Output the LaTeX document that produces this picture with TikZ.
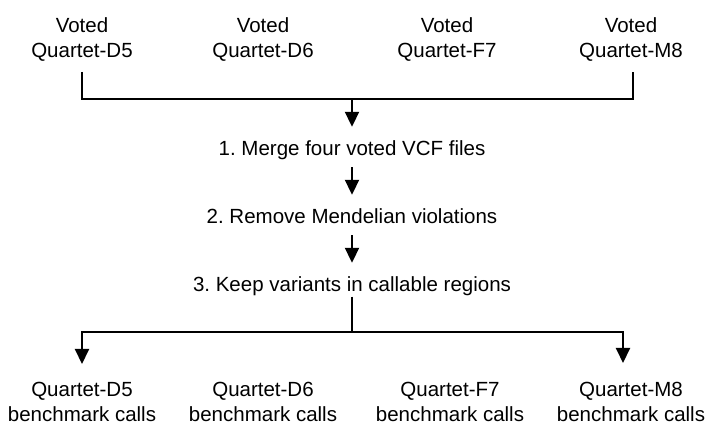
\documentclass[tikz,border=0pt]{standalone}
\usepackage{fontspec}
\setmainfont{Liberation Sans}
\usetikzlibrary{arrows.meta}
\frenchspacing
\begin{document}
\begin{tikzpicture}[x=1pt,y=-1pt,
  lbl/.style={inner sep=0pt, align=center, font=\fontsize{20.5}{25}\selectfont},
  stp/.style={inner sep=0pt, font=\fontsize{20.5}{25}\selectfont, text height=15pt, text depth=4.5pt},
  wire/.style={line width=2pt},
  arr/.style={line width=2pt, -{Triangle[width=14pt,length=15pt]}}]
\useasboundingbox[fill=white] (0,0) rectangle (712,443);
% inputs
\node[lbl, anchor=north] (vd5) at (82,17) {Voted\\Quartet-D5};
\node[lbl, anchor=north] (vd6) at (263,17) {Voted\\Quartet-D6};
\node[lbl, anchor=north] (vf7) at (447,17) {Voted\\Quartet-F7};
\node[lbl, anchor=north] (vm8) at (631,17) {Voted\\Quartet-M8};
% steps
\node[stp, anchor=base] (s1) at (352,156) {1. Merge four voted VCF files};
\node[stp, anchor=base] (s2) at (352,224) {2. Remove Mendelian violations};
\node[stp, anchor=base] (s3) at (352,292) {3. Keep variants in callable regions};
% outputs
\node[lbl, anchor=north] (bd5) at (82,382) {Quartet-D5\\benchmark calls};
\node[lbl, anchor=north] (bd6) at (263,382) {Quartet-D6\\benchmark calls};
\node[lbl, anchor=north] (bf7) at (450,382) {Quartet-F7\\benchmark calls};
\node[lbl, anchor=north] (bm8) at (631,382) {Quartet-M8\\benchmark calls};
% connectors
\coordinate (top) at (0,72);
\coordinate (j1) at (352,99);
\coordinate (j2) at (352,332);
\draw[wire] (vd5 |- top) |- (j1) -| ([xshift=2pt]vm8 |- top);
\draw[arr, shorten >=14pt] (j1) -- (s1);
\draw[arr, shorten <=6.5pt, shorten >=14pt] (s1) -- (s2);
\draw[arr, shorten <=6.5pt, shorten >=14pt] (s2) -- (s3);
\draw[wire] (s3) -- (j2);
\draw[arr, shorten >=18pt] (j2) -| (bd5.north);
\draw[arr, shorten >=19pt] (j2) -| ([xshift=-8pt]bm8.north);
\end{tikzpicture}
\end{document}
